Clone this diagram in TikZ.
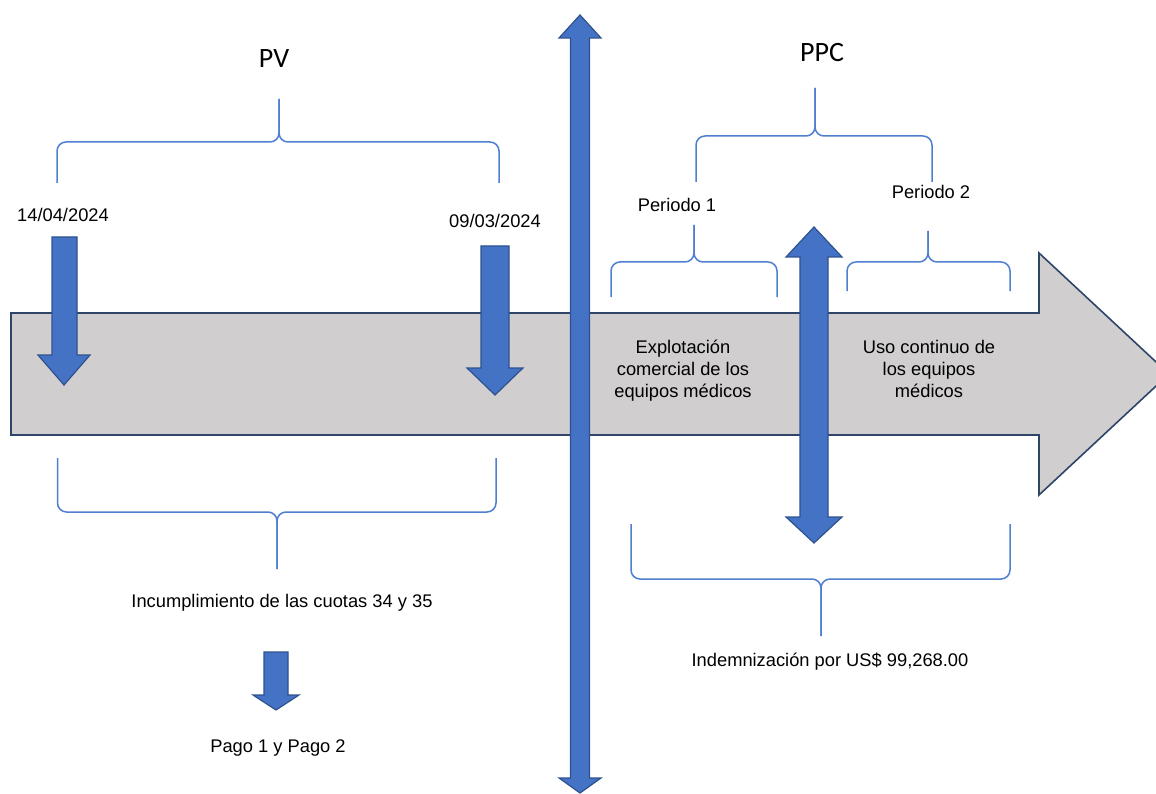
\documentclass[tikz,border=0pt]{standalone}
\usepackage{fontspec}
\setmainfont{Liberation Sans}
\newfontfamily\calfont{Carlito}
\usepackage{tikz}
\usetikzlibrary{calc,%
		positioning}

\definecolor{arrowblue}{HTML}{4472C4}
\definecolor{arrowedge}{HTML}{2F528F}
\definecolor{braceblue}{HTML}{4F7FD0}
\definecolor{bargray}{HTML}{D0CECE}
\definecolor{baredge}{HTML}{2E4569}

% brace: left x, right x, tip x, bar y, arm end y, tip y
\newcommand\spanbrace[6]{%
  \draw[bracket] (#1,#5) -- (#1,#4) -- (#3,#4) -- (#3,#6);
  \draw[bracket] (#2,#5) -- (#2,#4) -- (#3,#4) -- (#3,#6);}

\begin{document}
\begin{tikzpicture}[x=1pt,y=-1pt,font=\fontsize{18.3}{22}\selectfont,
  blockarrow/.style={fill=arrowblue, draw=arrowedge, line width=1.2pt, line join=miter},
  bracket/.style={draw=braceblue, line width=1.5pt, rounded corners=9pt},
  lbl/.style={anchor=base, inner sep=0pt},
  txt/.style={align=center, inner sep=0pt},
  title/.style={anchor=base, inner sep=0pt, font=\calfont\fontsize{28}{30}\selectfont}]
  \useasboundingbox (0,0) rectangle (1156,794);
  \clip (0,0) rectangle (1156,794);

  % time line
  \draw[fill=bargray, draw=baredge, line width=1.6pt, line join=miter]
    (11,313) -- (1039,313) -- (1039,253) -- (1169,374) -- (1039,495) -- (1039,435) -- (11,435) -- cycle;

  % dates
  \draw[blockarrow] (52,237) -- (77,237) -- (77,355) -- (90,355) -- (64,385) -- (38,355) -- (52,355) -- cycle;
  \draw[blockarrow] (481,246) -- (509,246) -- (509,368) -- (523,368) -- (495,395) -- (467,368) -- (481,368) -- cycle;
  \draw[blockarrow] (264,652) -- (288,652) -- (288,695) -- (299,695) -- (276,710) -- (253,695) -- (264,695) -- cycle;

  % dividers
  \draw[blockarrow] (580,15) -- (601,38) -- (589.5,38) -- (589.5,778) -- (601,778) -- (580,793)
    -- (559,778) -- (570.5,778) -- (570.5,38) -- (559,38) -- cycle;
  \draw[blockarrow] (814,227) -- (842,257) -- (828,257) -- (828,517) -- (842,517) -- (814,543)
    -- (786,517) -- (800,517) -- (800,257) -- (786,257) -- cycle;

  % braces
  \spanbrace{57}{499}{279}{142}{183}{99}
  \spanbrace{696}{932}{815}{136}{182}{88}
  \spanbrace{611}{777}{694}{262}{297}{225}
  \spanbrace{847}{1010}{928}{262}{291}{231}
  \spanbrace{57.5}{496}{277}{512}{458}{569}
  \spanbrace{631}{1010}{821}{579}{524}{636}

  \node [title] (pv) at (274,68) {PV};
  \node [title] (ppc) at (822,62) {PPC};
  \node [lbl] (fecha1) at (63,222) {14/04/2024};
  \node [lbl] (fecha2) at (495,228) {09/03/2024};
  \node [lbl] (periodo1) at (677,212) {Periodo 1};
  \node [lbl] (periodo2) at (931,199) {Periodo 2};
  \node [txt] (explot) at (683,371) {Explotación\\comercial de los\\equipos médicos};
  \node [txt] (uso) at (929,369) {Uso continuo de\\los equipos\\médicos};
  \node [lbl] (incump) at (282,607) {Incumplimiento de las cuotas 34 y 35};
  \node [lbl] (pago) at (278,752) {Pago 1 y Pago 2};
  \node [lbl] (indem) at (830,666) {Indemnización por US\$ 99,268.00};

\end{tikzpicture}
\end{document}
